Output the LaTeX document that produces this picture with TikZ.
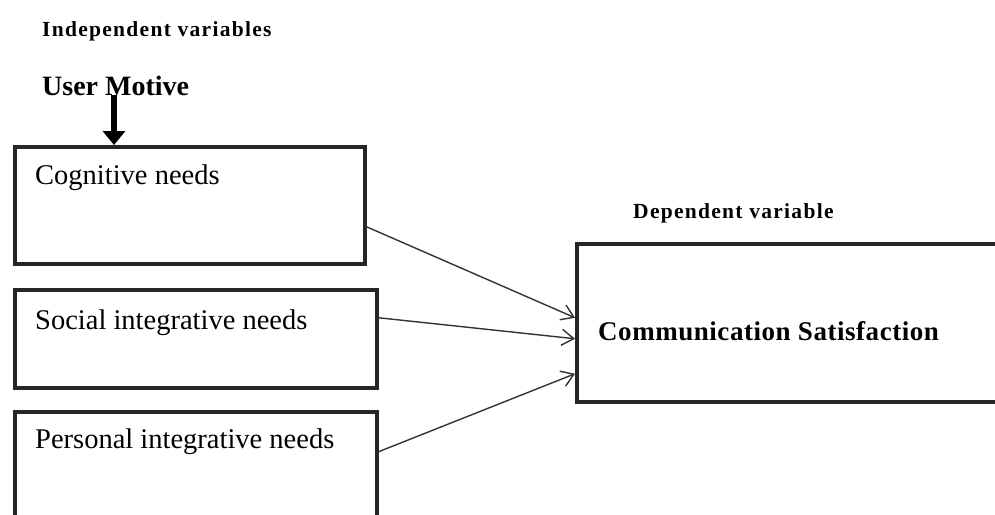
\documentclass[tikz,border=0pt]{standalone}
\usepackage{fontspec}
\setmainfont{Liberation Serif}
\usetikzlibrary{arrows.meta}
\begin{document}
\begin{tikzpicture}[x=1pt,y=-1pt,
  box/.style={draw=black!85, line width=3.5pt, rectangle, inner sep=0pt, anchor=north west},
  reg/.style={anchor=base west, inner sep=0pt, font=\fontsize{28.5}{30}\selectfont},
  small/.style={anchor=base west, inner sep=0pt, font=\fontsize{21.5}{24}\selectfont\bfseries\addfontfeatures{LetterSpace=6}},
  conn/.style={draw=black!80, line width=1.4pt, -{Straight Barb[length=12pt,width=16pt,line width=1.4pt]}},
  big/.style={-{Triangle[width=22pt,length=14pt]}, line width=5.5pt}
]
\useasboundingbox (0,0) rectangle (995,514);
\clip (0,0) rectangle (995,514);
% boxes
\node[box, minimum width=350pt, minimum height=117pt] (b1) at (13,145) {};
\node[box, minimum width=362pt, minimum height=98pt] (b2) at (13,288) {};
\node[box, minimum width=362pt, minimum height=120pt] (b3) at (13,410) {};
\node[box, minimum width=440pt, minimum height=158pt] (dv) at (575,242) {};
% texts
\node[small] (iv) at (42,36) {Independent variables};
\node[anchor=base west, inner sep=0pt, font=\fontsize{28}{30}\selectfont\bfseries] (um) at (42,95) {User Motive};
\node[reg] (t1) at (35,184) {Cognitive needs};
\node[reg] (t2) at (35,329) {Social integrative needs};
\node[reg] (t3) at (35,448) {Personal integrative needs};
\node[small] (dvl) at (633,218) {Dependent variable};
\node[anchor=base west, inner sep=0pt, font=\fontsize{27}{30}\selectfont\bfseries\addfontfeatures{LetterSpace=2}] (cs) at (598,340) {Communication Satisfaction};
% arrows
\coordinate (umdown) at (114,95);
\draw[big] (umdown) -- (umdown |- b1.north);
\draw[conn] ([yshift=-21.5pt]b1.east) -- ([yshift=5pt]dv.west);
\draw[conn] ([yshift=21pt]b2.east) -- ([yshift=-16pt]dv.west);
\draw[conn] ([yshift=20pt]b3.east) -- ([yshift=-51pt]dv.west);
\end{tikzpicture}
\end{document}
